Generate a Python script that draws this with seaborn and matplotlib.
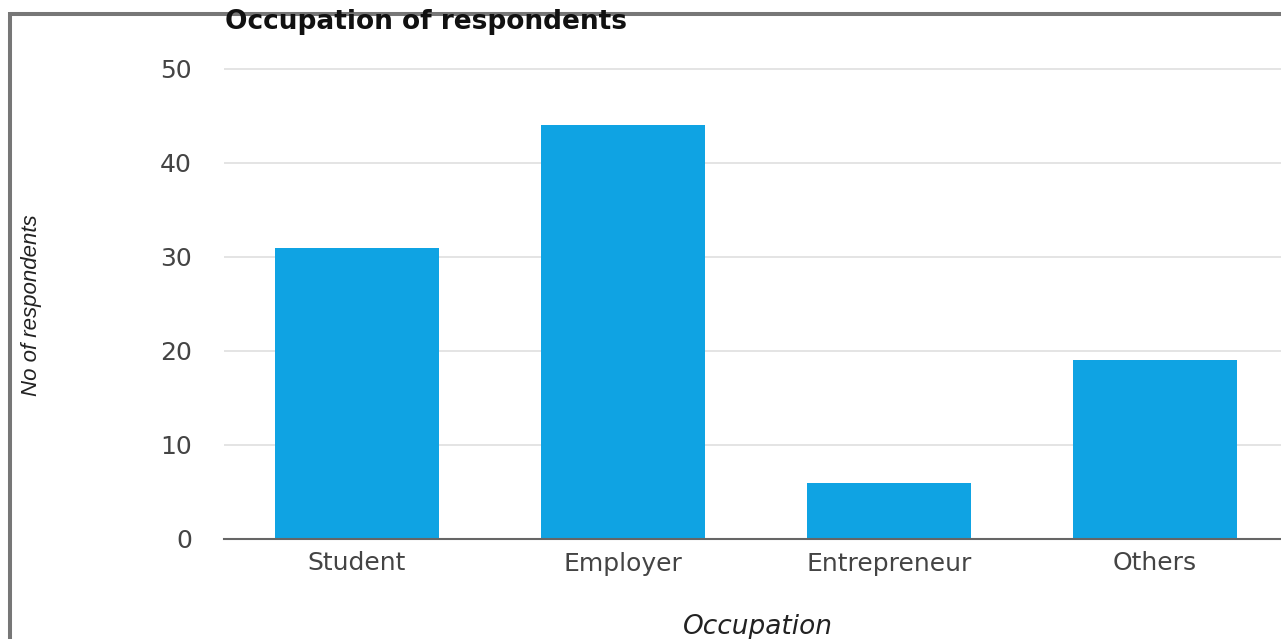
import matplotlib
matplotlib.use("Agg")
import matplotlib.pyplot as plt
from matplotlib.lines import Line2D
import seaborn as sns
import pandas as pd

# Survey results
occupations = ["Student", "Employer", "Entrepreneur", "Others"]
respondents = [31, 44, 6, 19]
y_ticks = [0, 10, 20, 30, 40, 50]

title = "Occupation of respondents"
x_title = "Occupation"
y_title = "No of respondents"

bar_color = "#0fa3e3"
text_color = "#444444"

sns.set_theme(style="white")
plt.rcParams["font.family"] = ["DejaVu Sans"]

df = pd.DataFrame({"occupation": occupations, "count": respondents})

W, H = 1281, 639
fig = plt.figure(figsize=(W / 100, H / 100), dpi=100)
fig.patch.set_facecolor("white")

# plot area in pixels: left edge, bottom (zero line), width, height
px_per_unit = 9.4
ymax = 52
ax_left, ax_zero, ax_w = 224, 539, 1064
ax_h = ymax * px_per_unit
ax = fig.add_axes([ax_left / W, (H - ax_zero) / H, ax_w / W, ax_h / H])

sns.barplot(data=df, x="occupation", y="count", color=bar_color,
            width=0.613, saturation=1, linewidth=0, ax=ax, zorder=3)

ax.set_ylim(0, ymax)
ax.set_yticks(y_ticks)
ax.set_yticklabels([str(v) for v in y_ticks])
ax.yaxis.grid(True, color="#dddddd", linewidth=1.1, zorder=0)
ax.xaxis.grid(False)
ax.set_axisbelow(True)

for side in ["top", "right", "left"]:
    ax.spines[side].set_visible(False)
ax.spines["bottom"].set_color("#666666")
ax.spines["bottom"].set_linewidth(1.5)
ax.spines["bottom"].set_zorder(4)

ax.tick_params(axis="y", length=0, pad=23, labelsize=18, labelcolor=text_color)
ax.tick_params(axis="x", length=0, pad=9, labelsize=18, labelcolor=text_color)


def px_to_axes_y(py):
    return (ax_zero - py) / ax_h


def px_to_axes_x(px):
    return (px - ax_left) / ax_w


ax.set_xlabel(x_title, fontsize=19, style="italic", color="#222222", va="top")
ax.xaxis.set_label_coords(px_to_axes_x(758), px_to_axes_y(614))
ax.set_ylabel(y_title, fontsize=16, style="italic", color="#222222",
              family=["Liberation Sans", "DejaVu Sans"])
ax.yaxis.set_label_coords(px_to_axes_x(42), px_to_axes_y(305))

fig.text(225 / W, (H - 22) / H, title, fontsize=19, fontweight="bold",
         color="#111111", ha="left", va="center")

# frame lines along the top and left of the figure
border = "#777777"
fig.add_artist(Line2D([10 / W, 1.0], [(H - 14) / H, (H - 14) / H],
                      transform=fig.transFigure, color=border, linewidth=2.9,
                      solid_capstyle="butt"))
fig.add_artist(Line2D([10 / W, 10 / W], [0, (H - 12) / H],
                      transform=fig.transFigure, color=border, linewidth=2.9,
                      solid_capstyle="butt"))

fig.savefig("out.png", dpi=100)
